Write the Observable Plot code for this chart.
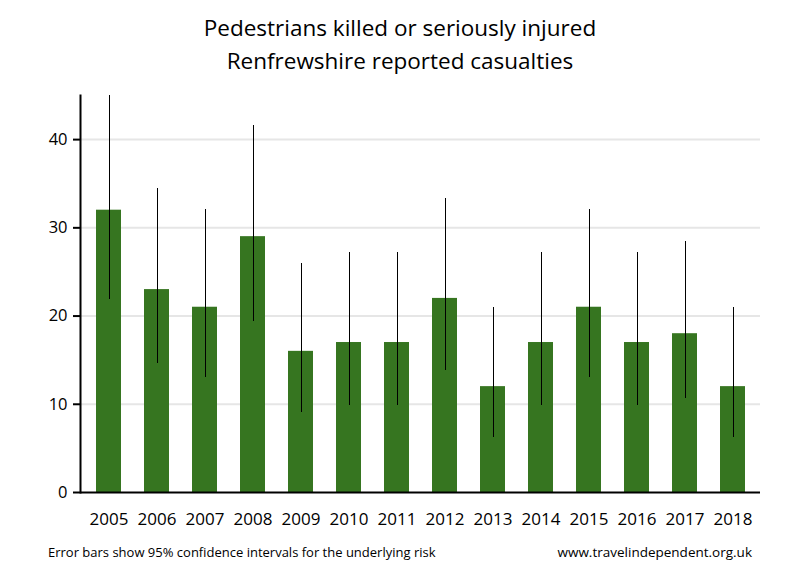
<!DOCTYPE html>
<html>
<head>
<meta charset="utf-8">
<script src="https://cdn.jsdelivr.net/npm/d3@7"></script>
<script src="https://cdn.jsdelivr.net/npm/@observablehq/plot@0.6"></script>
<style>
  body { margin: 0; background: #fff; font-family: "Open Sans", sans-serif; }
  #wrap { width: 800px; height: 580px; position: relative; }
  #title { height: 85px; text-align: center; font-size: 22.5px; line-height: 33px; padding-top: 11px; box-sizing: border-box; color: #000; }
  #footer { position: relative; height: 40px; font-size: 13px; color: #000; }
  #footer .l { position: absolute; left: 48px; top: 3px; }
  #footer .r { position: absolute; right: 48px; top: 3px; font-size: 13.5px; }
</style>
</head>
<body>
<div id="wrap">
  <div id="title">Pedestrians killed or seriously injured<br>Renfrewshire reported casualties</div>
  <div id="chart"></div>
  <div id="footer"><span class="l">Error bars show 95% confidence intervals for the underlying risk</span><span class="r">www.travelindependent.org.uk</span></div>
</div>
<script>
const years = ["2005","2006","2007","2008","2009","2010","2011","2012","2013","2014","2015","2016","2017","2018"];
const values = [32, 23, 21, 29, 16, 17, 17, 22, 12, 17, 21, 17, 18, 12];
const lower = [21.9, 14.6, 13.0, 19.4, 9.1, 9.9, 9.9, 13.8, 6.2, 9.9, 13.0, 9.9, 10.7, 6.2];
const upper = [45.2, 34.5, 32.1, 41.6, 26.0, 27.2, 27.2, 33.3, 21.0, 27.2, 32.1, 27.2, 28.4, 21.0];
const yTicks = [0, 10, 20, 30, 40];
const gridTicks = [10, 20, 30, 40];

const data = years.map((y, i) => ({year: y, value: values[i], lo: lower[i], hi: upper[i]}));

const chart = Plot.plot({
  width: 800,
  height: 455,
  marginLeft: 80,
  marginRight: 40,
  marginTop: 10,
  marginBottom: 48,
  style: {fontFamily: "Open Sans", fontSize: "16px", color: "#000", background: "#fff"},
  x: {type: "band", domain: years, paddingInner: 0.48, paddingOuter: 0.32, label: null},
  y: {domain: [0, 45], label: null},
  marks: [
    Plot.ruleY(gridTicks, {stroke: "#e6e6e6", strokeWidth: 2}),
    Plot.barY(data, {x: "year", y: "value", fill: "#367520"}),
    Plot.ruleX(data, {x: "year", y1: "lo", y2: "hi", stroke: "#000", strokeWidth: 1, clip: true, shapeRendering: "crispEdges"}),
    Plot.axisX({tickSize: 0, tickPadding: 20, fontSize: 17, label: null}),
    Plot.axisY({ticks: yTicks, tickSize: 7, tickPadding: 6, strokeWidth: 2, fontSize: 16.5, label: null}),
    Plot.frame({anchor: "left", strokeWidth: 2, stroke: "#000"}),
    Plot.ruleY([0], {stroke: "#000", strokeWidth: 2})
  ]
});
document.getElementById("chart").appendChild(chart);
</script>
</body>
</html>
